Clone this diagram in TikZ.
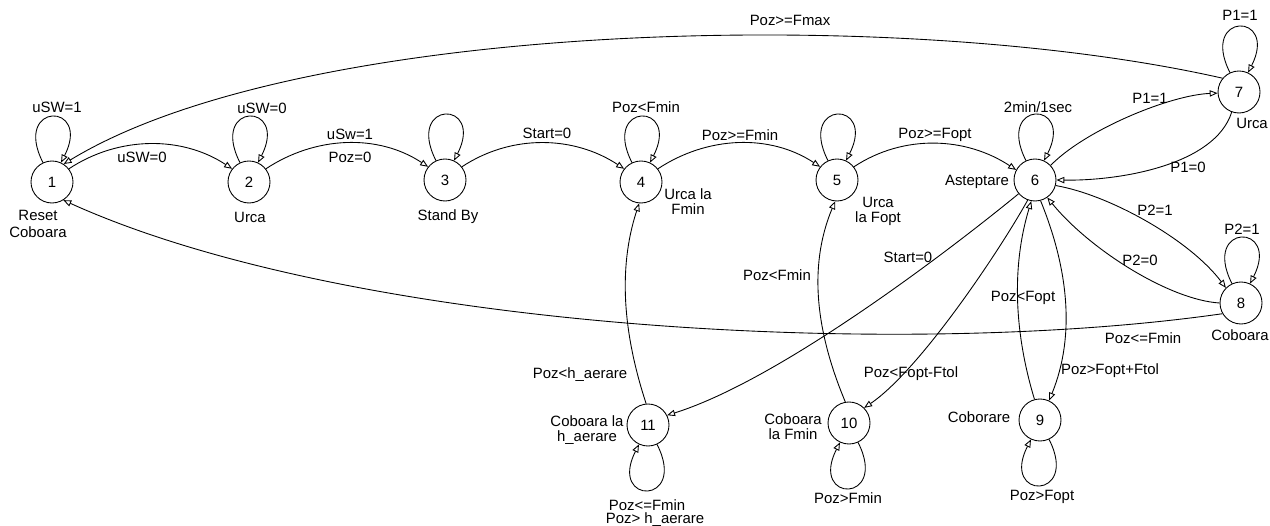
\documentclass[tikz,border=0pt]{standalone}
\usepackage{fontspec}
\setmainfont{Liberation Sans}
\usetikzlibrary{arrows.meta}
\newcommand\fsmfont{\fontsize{8.5}{8.6}\selectfont}
\begin{document}
\begin{tikzpicture}[x=0.02cm,y=-0.02cm,
  state/.style={circle,draw,line width=0.5pt,minimum size=0.84cm,inner sep=0pt,font=\fsmfont},
  lbl/.style={font=\fsmfont,inner sep=0pt,align=center},
  arr/.style={line width=0.5pt,-{Triangle[open,length=4.5pt,width=3.6pt]}},
  looptop/.style={arr},
]
\useasboundingbox (0,0) rectangle (1270,526);
% states
\node[state] (n1) at (52,182) {1};
\node[state] (n2) at (249,182) {2};
\node[state] (n3) at (445,180) {3};
\node[state] (n4) at (641,182) {4};
\node[state] (n5) at (837,180) {5};
\node[state] (n6) at (1035,180) {6};
\node[state] (n7) at (1239,92) {7};
\node[state] (n8) at (1241,303) {8};
\node[state] (n9) at (1040,420) {9};
\node[state] (n10) at (849,423) {10};
\node[state] (n11) at (648,425) {11};
% state names
\node[lbl] (s1) at (38,224) {Reset\\[1pt]Coboara};
\node[lbl] (s2) at (250,217) {Urca};
\node[lbl] (s3) at (448,217) {Stand By};
\node[lbl] (s4) at (688,202) {Urca la\\Fmin};
\node[lbl] (s5) at (878,211) {Urca\\la Fopt};
\node[lbl] (s6) at (977,182) {Asteptare};
\node[lbl] (s7) at (1252,123) {Urca};
\node[lbl] (s8) at (1240,335) {Coboara};
\node[lbl] (s9) at (979,417) {Coborare};
\node[lbl] (s10) at (793,427) {Coboara\\la Fmin};
\node[lbl] (s11) at (587,430) {Coboara la\\h\_aerare};
% self loops
\foreach \n in {n1,n2,n3,n4,n5,n6,n7,n8}
  \draw[arr] (\n.115) .. controls +(-31,-61) and +(31,-61) .. (\n.65);
\foreach \n in {n9,n10,n11}
  \draw[arr] (\n.-65) .. controls +(31,61) and +(-31,61) .. (\n.-115);
% chain arcs
\draw[arr] (n1.38) .. controls +(50,-33) and +(-50,-33) .. (n2.142);
\draw[arr] (n2.38) .. controls +(50,-33) and +(-50,-33) .. (n3.142);
\draw[arr] (n3.38) .. controls +(50,-33) and +(-50,-33) .. (n4.142);
\draw[arr] (n4.38) .. controls +(50,-33) and +(-50,-33) .. (n5.142);
\draw[arr] (n5.38) .. controls +(50,-33) and +(-50,-33) .. (n6.152);
% long edges
\draw[arr] (n7.140) .. controls (900,5) and (300,20) .. (n1.57);
\draw[arr] (n8.210) .. controls (900,360) and (350,330) .. (n1.-58);
% around 6
\draw[arr] (n6.43) .. controls (1085,130) and (1170,95) .. (n7.183);
\draw[arr] (n7.250) .. controls (1215,165) and (1120,181) .. (n6.east);
\draw[arr] (n6.-15) .. controls (1110,195) and (1190,240) .. (n8.135);
\draw[arr] (n8.180) .. controls (1170,300) and (1090,250) .. (n6.-55);
\draw[arr] (n6.220) .. controls (950,250) and (780,380) .. (n11.27);
\draw[arr] (n6.250) .. controls (1000,250) and (920,370) .. (n10.45);
\draw[arr] (n9.105) .. controls +(-20,-66) and +(-20,66) .. (n6.260);
\draw[arr] (n6.285) .. controls +(27,66) and +(27,-66) .. (n9.65);
% upward edges
\draw[arr] (n11.95) .. controls +(-22,-67) and +(-22,67) .. (n4.265);
\draw[arr] (n10.100) .. controls +(-28,-67) and +(-28,67) .. (n5.265);
% loop labels
\node[lbl] (l1) at (57,107) {uSW=1};
\node[lbl] (l2) at (262,108) {uSW=0};
\node[lbl] (l4) at (646,107) {Poz<Fmin};
\node[lbl] (l6) at (1038,107) {2min/1sec};
\node[lbl] (l7) at (1240,15) {P1=1};
\node[lbl] (l8) at (1242,229) {P2=1};
\node[lbl] (l9) at (1042,497) {Poz>Fopt};
\node[lbl] (l10) at (848,498) {Poz>Fmin};
\node[lbl] (l11a) at (647,505) {Poz<=Fmin};
\node[lbl] (l11b) at (655,520) {Poz> h\_aerare};
% edge labels
\node[lbl] (e12) at (142,157) {uSW=0};
\node[lbl] (e23a) at (350,134) {uSw=1};
\node[lbl] (e23b) at (350,157) {Poz=0};
\node[lbl] (e34) at (547,133) {Start=0};
\node[lbl] (e45) at (740,135) {Poz>=Fmin};
\node[lbl] (e56) at (935,135) {Poz>=Fopt};
\node[lbl] (e71) at (790,20) {Poz>=Fmax};
\node[lbl] (e67) at (1150,98) {P1=1};
\node[lbl] (e76) at (1188,167) {P1=0};
\node[lbl] (e68) at (1155,210) {P2=1};
\node[lbl] (e86) at (1140,260) {P2=0};
\node[lbl] (e81) at (1143,338) {Poz<=Fmin};
\node[lbl] (e611) at (908,257) {Start=0};
\node[lbl] (e96) at (1023,298) {Poz<Fopt};
\node[lbl] (e69) at (1110,371) {Poz>Fopt+Ftol};
\node[lbl] (e610) at (911,374) {Poz<Fopt-Ftol};
\node[lbl] (e105) at (777,275) {Poz<Fmin};
\node[lbl] (e114) at (580,375) {Poz<h\_aerare};
\end{tikzpicture}
\end{document}
